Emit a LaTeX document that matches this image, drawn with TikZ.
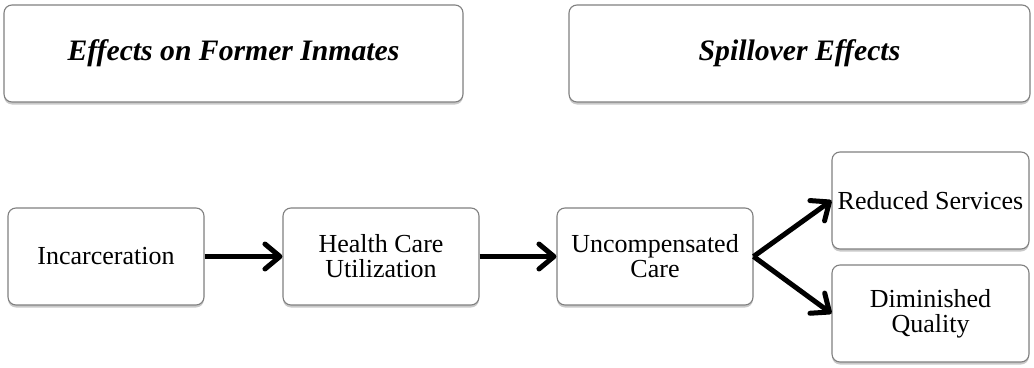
\documentclass[tikz,border=0pt]{standalone}
\usepackage{fontspec}
\setmainfont{Liberation Serif}
\usetikzlibrary{arrows.meta,shadows}
\begin{document}
\begin{tikzpicture}[x=1pt,y=-1pt,
  box/.style={draw=black!50, line width=1.1pt, rounded corners=8pt, fill=white,
    align=center, inner sep=0pt, minimum height=97pt,
    drop shadow={shadow xshift=0pt, shadow yshift=-2.5pt, opacity=0.3, fill=black!70},
    font=\fontsize{26}{25}\selectfont},
  headbox/.style={box, font=\fontsize{29.7}{30}\selectfont\bfseries\itshape},
  flow/.style={line width=5pt, -{Straight Barb[length=15pt,width=25pt,round]}}]
  \useasboundingbox (0,0) rectangle (1034,367);
  % column headings
  \node[headbox, minimum width=459pt] (former) at (233.5,53.5) {Effects on Former Inmates};
  \node[headbox, minimum width=461pt] (spill) at (799.5,53.5) {Spillover Effects};
  % causal chain
  \node[box, minimum width=196pt] (inc) at (106,256.5) {Incarceration};
  \node[box, minimum width=196pt] (hcu) at (381,256.5) {Health Care\\Utilization};
  \node[box, minimum width=196pt] (uc) at (655,256.5) {Uncompensated\\Care};
  \node[box, minimum width=197pt] (rs) at (930.5,200.5) {Reduced Services};
  \node[box, minimum width=197pt] (dq) at (930.5,313.5) {Diminished\\Quality};
  \draw[flow] (inc.east) -- (hcu.west);
  \draw[flow] (hcu.east) -- (uc.west);
  \draw[flow] (uc.east) -- (rs.west);
  \draw[flow] (uc.east) -- (dq.west);
\end{tikzpicture}
\end{document}
